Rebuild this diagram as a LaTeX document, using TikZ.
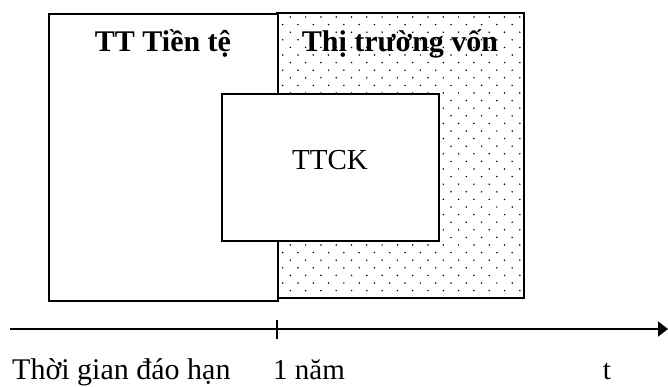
\documentclass[tikz,border=0pt]{standalone}
\usepackage{fontspec}
\setmainfont{Liberation Serif}
\usetikzlibrary{arrows.meta}

\begin{document}
\begin{tikzpicture}[%
        > = {Triangle[length = 10pt, width = 15pt]},
        x = 1pt,
        y = -1pt,
        line cap = rect,
        box/.style = {draw, line width = 2pt, fill = white, inner sep = 0pt},
        label/.style = {font = \fontsize{29}{32}\selectfont, inner sep = 0pt},
        title/.style = {font = \fontsize{30}{33}\selectfont\bfseries, inner sep = 0pt}
    ]

        \useasboundingbox (0, 0) rectangle (668, 387);

        % Coordinates for the corners of the dotted region.
        \coordinate (V1) at (277, 13);
        \coordinate (V2) at (524, 298);

        % Dotted region for the capital market.
        \begin{scope}
            \clip (V1) rectangle (V2);
            \foreach \row in {0, ..., 38} {
                \pgfmathsetmacro{\shift}{mod(\row, 2) * 7.65}
                \foreach \col in {0, ..., 17} {
                    \fill[black] (275 + \shift + \col * 15.3, 17 + \row * 7.6) circle (0.85);
                }
            }
        \end{scope}
        \draw[line width = 2.6pt] (V1) rectangle (V2);

        % Boxes for the money market and the stock market.
        \node[box, anchor = north west, minimum width = 229, minimum height = 287]
            (tiente) at (48, 13) {};
        \node[box, anchor = north west, minimum width = 217, minimum height = 147]
            (ttck) at (221, 93) {};

        % Labels inside the boxes.
        \node[title, anchor = base] (lbltiente) at (163, 52) {TT Tiền tệ};
        \node[title, anchor = base] (lblvon) at (400, 52) {Thị trường vốn};
        \node[label, anchor = base] (lblttck) at (330, 170) {TTCK};

        % Time axis with the tick at one year.
        \coordinate (A0) at (10, 329);
        \coordinate (A1) at (668, 329);
        \coordinate (T0) at (277, 320);
        \coordinate (T1) at (277, 339);
        \draw[->, line width = 1.8pt, line cap = butt] (A0) to (A1);
        \draw[line width = 1.6pt, line cap = butt] (T0) to (T1);

        % Labels under the axis.
        \node[label, anchor = base west, font = \fontsize{30}{33}\selectfont]
            (lbltime) at (12, 379) {Thời gian đáo hạn};
        \node[label, anchor = base west] (lblnam) at (273, 379) {1 năm};
        \node[label, anchor = base] (lblt) at (607, 379) {t};
    \end{tikzpicture}
\end{document}
